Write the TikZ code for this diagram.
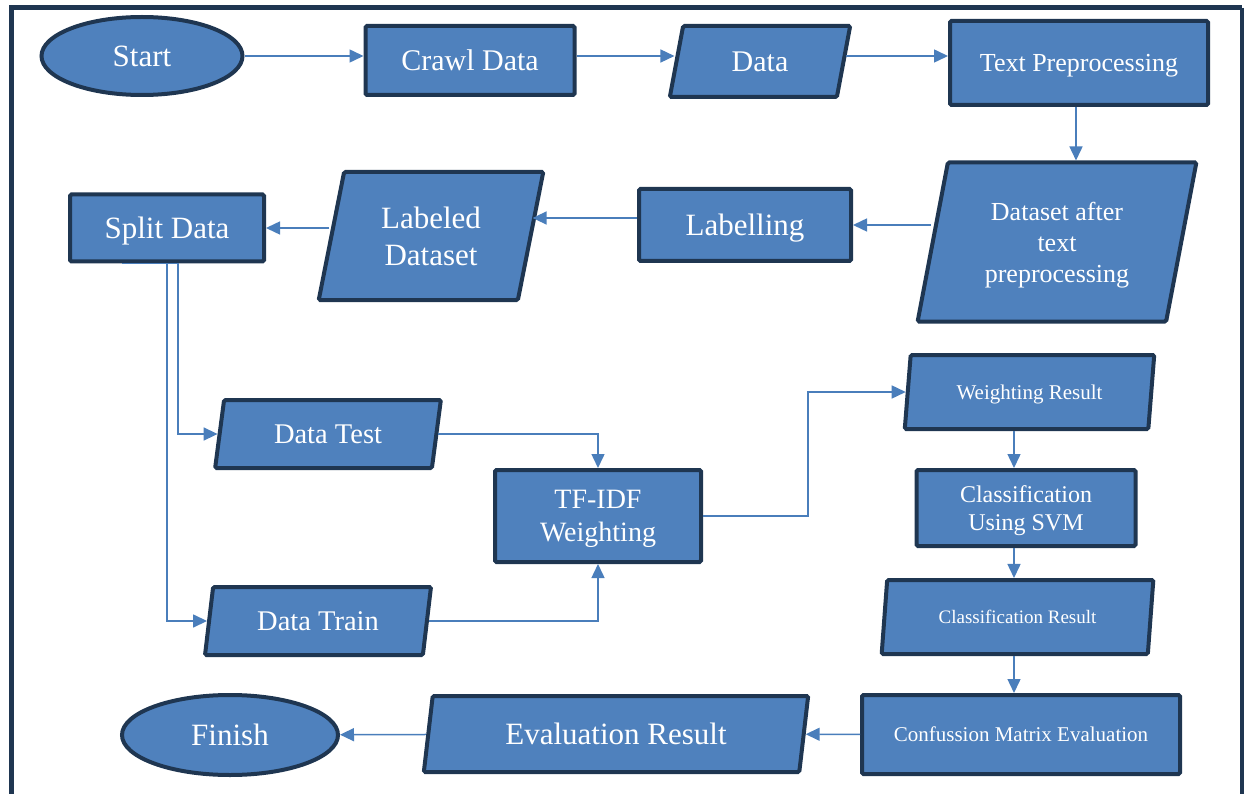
\documentclass[tikz,border=0pt]{standalone}
\usepackage{fontspec}
\setmainfont{Liberation Serif}
\usetikzlibrary{shapes.geometric,arrows.meta}
\definecolor{boxblue}{HTML}{4F81BD}
\definecolor{boxline}{HTML}{1F3651}
\definecolor{flowblue}{HTML}{4A7EBB}

\begin{document}
\begin{tikzpicture}[x=1pt,y=-1pt,
	base/.style={draw=boxline, line width=4pt, fill=boxblue, text=white, inner sep=0pt, text depth=-4pt, align=center, rounded corners=1.5pt},
	proc/.style={base, rectangle},
	io/.style={base, trapezium, trapezium left angle=76, trapezium right angle=104, trapezium stretches=true},
	term/.style={base, ellipse},
	flow/.style={draw=flowblue, line width=1.5pt, -{Triangle[length=14pt,width=13pt]}},
	fs/.style 2 args={font=\fontsize{#1}{#2}\selectfont}]
			%%%	Frame
			\useasboundingbox (0,0) rectangle (1244,794);
			\draw[boxline, line width=5pt] (11,794) -- (11,8) -- (1242,8);
			\draw[boxline, line width=3.5pt] (1242,8) -- (1242,794);
			\coordinate (axis) at (1014,0);
			%%%	Nodes
			\node[term, fs={31}{36}, minimum width=201pt, minimum height=78pt] (start) at (142,56) {Start};
			\node[proc, fs={30}{35}, minimum width=209pt, minimum height=69pt] (crawl) at (470,60.5) {Crawl Data};
			\node[io, fs={30}{35}, minimum width=181pt, minimum height=71pt] (data) at (760,61.5) {Data};
			\node[proc, fs={26}{31}, minimum width=258pt, minimum height=84pt] (tp) at (1079,63) {Text Preprocessing};
			\node[io, fs={26}{31}, minimum width=279pt, minimum height=159pt] (dsa) at (1057,242) {Dataset after\\text\\preprocessing};
			\node[proc, fs={31}{36}, minimum width=212pt, minimum height=72pt] (lab) at (745,225) {Labelling};
			\node[io, fs={31}{37}, minimum width=225pt, minimum height=128pt] (lds) at (431,236) {Labeled\\Dataset};
			\node[proc, fs={31}{36}, minimum width=194pt, minimum height=67pt] (split) at (167,228) {Split Data};
			\node[io, fs={28.5}{33}, minimum width=226pt, minimum height=68pt] (test) at (328,434) {Data Test};
			\node[io, fs={28.5}{33}, minimum width=226pt, minimum height=68pt] (train) at (318,621) {Data Train};
			\node[proc, fs={28}{33}, minimum width=206pt, minimum height=92pt] (tfidf) at (598,516) {TF-IDF\\Weighting};
			\node[io, fs={21}{25}, minimum width=250pt, minimum height=74pt] (wres) at (1029.5,392) {Weighting Result};
			\node[proc, fs={24}{28}, minimum width=219pt, minimum height=76pt] (svm) at (1026,508) {Classification\\Using SVM};
			\node[io, fs={19}{23}, minimum width=272pt, minimum height=74pt] (cres) at (1017.5,617) {Classification Result};
			\node[proc, fs={21}{25}, minimum width=318pt, minimum height=79pt] (conf) at (1021,734.5) {Confussion Matrix Evaluation};
			\node[io, fs={31}{36}, minimum width=385pt, minimum height=76pt] (eres) at (616,734) {Evaluation Result};
			\node[term, fs={31}{36}, minimum width=216pt, minimum height=80pt] (finish) at (230,735) {Finish};
			%%%	Arrows
			\draw[flow] (start) -- (start -| crawl.west);
			\draw[flow] (start -| crawl.east) -- (start -| data.west);
			\draw[flow] (start -| data.east) -- (start -| tp.west);
			\draw[flow] ([xshift=-3pt]tp.south) -- ([xshift=-3pt]tp.south |- dsa.north);
			\draw[flow] (lab.east -| dsa.west) -- (lab.east);
			\draw[flow] ([yshift=7pt]lab.west) -- ([yshift=7pt]lab.west -| lds.east);
			\draw[flow] (split.east -| lds.west) -- (split.east);
			\draw[flow] ([xshift=-45pt]split.south) -- ([xshift=11pt]split.south) |- (test);
			\draw[flow] (split.south) |- (train);
			\draw[flow] (test) -| (tfidf);
			\draw[flow] (train) -| (tfidf);
			\draw[flow] (tfidf.east) -- ++(105,0) |- (wres);
			\draw[flow] (wres.south -| axis) -- (svm.north -| axis);
			\draw[flow] (svm.south -| axis) -- (cres.north -| axis);
			\draw[flow] (cres.south -| axis) -- (conf.north -| axis);
			\draw[flow] (conf) -- (eres);
			\draw[flow] (eres) -- (finish);
		\end{tikzpicture}
\end{document}
